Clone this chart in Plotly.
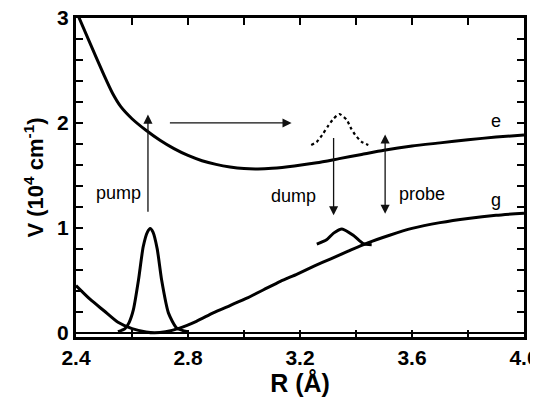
import plotly.graph_objects as go

# ---- data ----
R_e = [2.40, 2.45, 2.50, 2.53, 2.56, 2.60, 2.65, 2.70, 2.75, 2.80, 2.85, 2.90, 2.95,
       3.00, 3.05, 3.10, 3.18, 3.26, 3.34, 3.42, 3.50, 3.60, 3.70, 3.80, 3.90, 4.00]
V_e = [3.07, 2.76, 2.455, 2.285, 2.155, 2.04, 1.93, 1.835, 1.755, 1.69, 1.64, 1.605, 1.58,
       1.565, 1.562, 1.568, 1.59, 1.62, 1.66, 1.70, 1.74, 1.78, 1.81, 1.84, 1.865, 1.885]

R_g = [2.40, 2.45, 2.50, 2.55, 2.60, 2.65, 2.68, 2.72, 2.77, 2.83, 2.89, 2.95, 3.01,
       3.07, 3.13, 3.19, 3.25, 3.31, 3.37, 3.44, 3.52, 3.60, 3.70, 3.80, 3.90, 4.00]
V_g = [0.45, 0.32, 0.21, 0.10, 0.04, 0.008, 0.0, 0.01, 0.045, 0.11, 0.19, 0.26, 0.33,
       0.41, 0.49, 0.56, 0.635, 0.705, 0.775, 0.855, 0.93, 0.995, 1.05, 1.09, 1.12, 1.14]

R_pump_wp = [2.55, 2.575, 2.59, 2.605, 2.623, 2.64, 2.655, 2.665, 2.675, 2.69, 2.706, 2.73, 2.76, 2.80]
V_pump_wp = [0.01, 0.04, 0.10, 0.22, 0.50, 0.82, 0.96, 0.995, 0.96, 0.80, 0.50, 0.19, 0.045, 0.01]

R_dump_wp = [3.26, 3.295, 3.32, 3.35, 3.39, 3.426, 3.456]
V_dump_wp = [0.845, 0.886, 0.95, 0.99, 0.93, 0.85, 0.84]

R_exc_wp = [3.24, 3.26, 3.283, 3.30, 3.32, 3.34, 3.367, 3.38, 3.396, 3.42, 3.444]
V_exc_wp = [1.79, 1.82, 1.90, 1.97, 2.04, 2.085, 2.03, 1.96, 1.89, 1.82, 1.79]

# arrows: (x_head, y_head, x_tail, y_tail, sides)
arrow_pump = (2.657, 2.08, 2.657, 1.14, "end")
arrow_move = (3.17, 2.00, 2.73, 2.00, "end")
arrow_dump = (3.32, 1.12, 3.32, 1.87, "end")
arrow_probe = (3.504, 1.89, 3.504, 1.12, "end+start")

labels_text = ["pump", "dump", "probe", "e", "g"]
labels_x = [2.55, 3.177, 3.636, 3.90, 3.90]
labels_y = [1.33, 1.30, 1.32, 2.02, 1.27]

# tick positions every 0.2; only some carry a label
x_tickvals = [2.4, 2.6, 2.8, 3.0, 3.2, 3.4, 3.6, 3.8, 4.0]
x_ticktext = ["2.4", "", "2.8", "", "3.2", "", "3.6", "", "4.0"]
y_tickvals = [0, 0.2, 0.4, 0.6, 0.8, 1.0, 1.2, 1.4, 1.6, 1.8, 2.0, 2.2, 2.4, 2.6, 2.8, 3.0]
y_ticktext = ["0", "", "", "", "", "1", "", "", "", "", "2", "", "", "", "", "3"]

FONT = "Liberation Sans, Arial, Helvetica, sans-serif"

fig = go.Figure()
line_kw = dict(color="black", width=3, shape="spline", smoothing=0.6)
fig.add_trace(go.Scatter(x=R_e, y=V_e, mode="lines", line=line_kw, hoverinfo="skip"))
fig.add_trace(go.Scatter(x=R_g, y=V_g, mode="lines", line=line_kw, hoverinfo="skip"))
fig.add_trace(go.Scatter(x=R_pump_wp, y=V_pump_wp, mode="lines", line=line_kw, hoverinfo="skip"))
fig.add_trace(go.Scatter(x=R_dump_wp, y=V_dump_wp, mode="lines", line=line_kw, hoverinfo="skip"))
fig.add_trace(go.Scatter(x=R_exc_wp, y=V_exc_wp, mode="lines",
                         line=dict(color="black", width=2.2, dash="dot", shape="spline", smoothing=0.6),
                         hoverinfo="skip"))

for (xh, yh, xt, yt, side) in [arrow_pump, arrow_move, arrow_dump, arrow_probe]:
    fig.add_annotation(x=xh, y=yh, ax=xt, ay=yt, xref="x", yref="y", axref="x", ayref="y",
                       text="", showarrow=True, arrowhead=2, arrowsize=1.4, arrowwidth=1.3,
                       arrowcolor="#111", arrowside=side, startarrowhead=2, startarrowsize=1.4,
                       standoff=0, startstandoff=0)

for t, x, y in zip(labels_text, labels_x, labels_y):
    fig.add_annotation(x=x, y=y, xref="x", yref="y", text=t, showarrow=False,
                       font=dict(family=FONT, size=18, color="black"))

axis_common = dict(showline=True, linewidth=3, linecolor="black", mirror="ticks",
                   ticks="inside", ticklen=7, tickwidth=2, tickcolor="black",
                   showgrid=False, automargin=False, ticklabeloverflow="allow",
                   tickfont=dict(family=FONT, size=21, color="black", weight="bold"))

fig.update_xaxes(range=[2.4, 4.0], tickmode="array", tickvals=x_tickvals, ticktext=x_ticktext,
                 zeroline=False,
                 title=dict(text="R (Å)", font=dict(family=FONT, size=25, color="black", weight="bold"),
                            standoff=6),
                 **axis_common)
fig.update_yaxes(range=[-0.04, 3.0], tickmode="array", tickvals=y_tickvals, ticktext=y_ticktext,
                 zeroline=True, zerolinecolor="black", zerolinewidth=2,
                 title=dict(text="V (10<sup>4</sup> cm<sup>-1</sup>)",
                            font=dict(family=FONT, size=22, color="black", weight="bold"),
                            standoff=8),
                 **axis_common)

# page body has an 8px margin: figure is placed at (8,8); plot area lands at x 76-524, y 18-337
fig.update_layout(width=530, height=397, margin=dict(l=68, r=14, t=10, b=68),
                  plot_bgcolor="white", paper_bgcolor="white", showlegend=False)

fig.write_html("out.html")
